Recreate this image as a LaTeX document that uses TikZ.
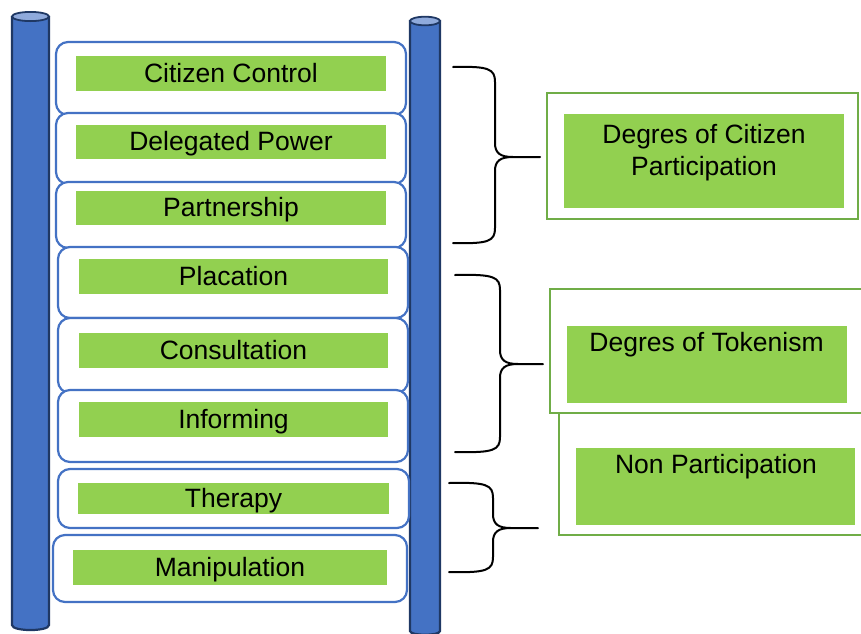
\documentclass[tikz,border=0pt]{standalone}
\usepackage{fontspec}
\setmainfont{Liberation Sans}
\definecolor{polefill}{HTML}{4472C4}
\definecolor{poleline}{HTML}{1F3864}
\definecolor{poletopc}{HTML}{8FAADC}
\definecolor{rungline}{HTML}{4472C4}
\definecolor{barg}{HTML}{92D050}
\definecolor{boxline}{HTML}{70AD47}
\newcommand{\ladderbrace}[6]{%
  \draw[bracestyle] (#1,#2) .. controls (#3-6,#2-1) and (#3,#2+2) .. (#3,#2+15)
    -- (#3,#4-14) .. controls (#3,#4-4) and (#3+5,#4) .. (#3+18,#4) -- (#5,#4)
    -- (#3+18,#4) .. controls (#3+5,#4) and (#3,#4+4) .. (#3,#4+14)
    -- (#3,#6-15) .. controls (#3,#6-2) and (#3-6,#6+1) .. (#1,#6);}
\begin{document}
\begin{tikzpicture}[x=1pt,y=-1pt,
  pole/.style={fill=polefill, draw=poleline, line width=2.2pt},
  poletop/.style={fill=poletopc, draw=poleline, line width=1.8pt},
  rung/.style={draw=rungline, fill=white, line width=2.2pt, rounded corners=12pt, inner sep=0pt},
  bar/.style={fill=barg, inner sep=0pt, text height=17pt, text depth=0pt,
    font=\fontsize{26.5}{31.3}\selectfont},
  outerbox/.style={draw=boxline, fill=white, line width=2.4pt, inner sep=0pt},
  innerbox/.style={fill=barg, inner sep=0pt},
  lbl/.style={inner sep=0pt, align=center, font=\fontsize{26.5}{31.3}\selectfont},
  bracestyle/.style={draw=black, line width=2pt, line join=round, line cap=round}]
\useasboundingbox (0,0) rectangle (861,633);

% poles
\filldraw[pole] (12,17) -- (12,625) .. controls (12,631.7) and (49,631.7) .. (49,625) -- (49,17) -- cycle;
\filldraw[poletop] (30.5,16.5) ellipse [x radius=18.5pt, y radius=4.6pt];
\filldraw[pole] (410,21) -- (410,631) .. controls (410,636) and (440,636) .. (440,631) -- (440,21) -- cycle;
\filldraw[poletop] (425,21) ellipse [x radius=15pt, y radius=4.3pt];

% rungs
\node[rung, minimum width=350pt, minimum height=73pt] (r1) at (231,78.5) {};
\node[rung, minimum width=350pt, minimum height=71pt] (r2) at (231,148.5) {};
\node[rung, minimum width=350pt, minimum height=66pt] (r3) at (231,215) {};
\node[rung, minimum width=350pt, minimum height=71pt] (r4) at (233,282.5) {};
\node[rung, minimum width=350pt, minimum height=75pt] (r5) at (233,355.5) {};
\node[rung, minimum width=350pt, minimum height=72pt] (r6) at (233,426) {};
\node[rung, minimum width=351pt, minimum height=59pt] (r7) at (233.5,498.5) {};
\node[rung, minimum width=354pt, minimum height=67pt] (r8) at (230,568.5) {};

% green bars with labels
\node[bar, minimum width=310pt, minimum height=35pt] (b1) at (231,73.5) {Citizen Control};
\node[bar, minimum width=310pt, minimum height=34pt] (b2) at (231,142) {Delegated Power};
\node[bar, minimum width=310pt, minimum height=34pt] (b3) at (231,208) {Partnership};
\node[bar, minimum width=309pt, minimum height=35pt] (b4) at (233.5,276.5) {Placation};
\node[bar, minimum width=309pt, minimum height=35pt] (b5) at (233.5,350.5) {Consultation};
\node[bar, minimum width=309pt, minimum height=35pt] (b6) at (233.5,419.5) {Informing};
\node[bar, minimum width=311pt, minimum height=31pt] (b7) at (233.5,498.5) {Therapy};
\node[bar, minimum width=314pt, minimum height=35pt] (b8) at (230,567.5) {Manipulation};

% braces
\ladderbrace{453}{67}{495}{157}{540}{243}
\ladderbrace{455}{275}{500}{364}{543}{452}
\ladderbrace{449}{483}{493}{528}{538}{572}

% right boxes
\node[outerbox, minimum width=311pt, minimum height=126pt] (o1) at (702.5,156) {};
\node[innerbox, minimum width=280pt, minimum height=94pt] (i1) at (704,161) {};
\node[lbl, anchor=north] (t1) at (704,124.5) {Degres of Citizen\\Participation};

\node[outerbox, minimum width=316pt, minimum height=122pt] (o3) at (717,474) {};
\node[outerbox, minimum width=325pt, minimum height=124pt] (o2) at (712.5,351) {};
\node[innerbox, minimum width=280pt, minimum height=77pt] (i2) at (707,364.5) {};
\node[lbl, anchor=base] (t2) at (706.5,351) {Degres of Tokenism};

\node[innerbox, minimum width=279pt, minimum height=77pt] (i3) at (715.5,486.5) {};
\node[lbl, anchor=base] (t3) at (716,473) {Non Participation};
\end{tikzpicture}
\end{document}
